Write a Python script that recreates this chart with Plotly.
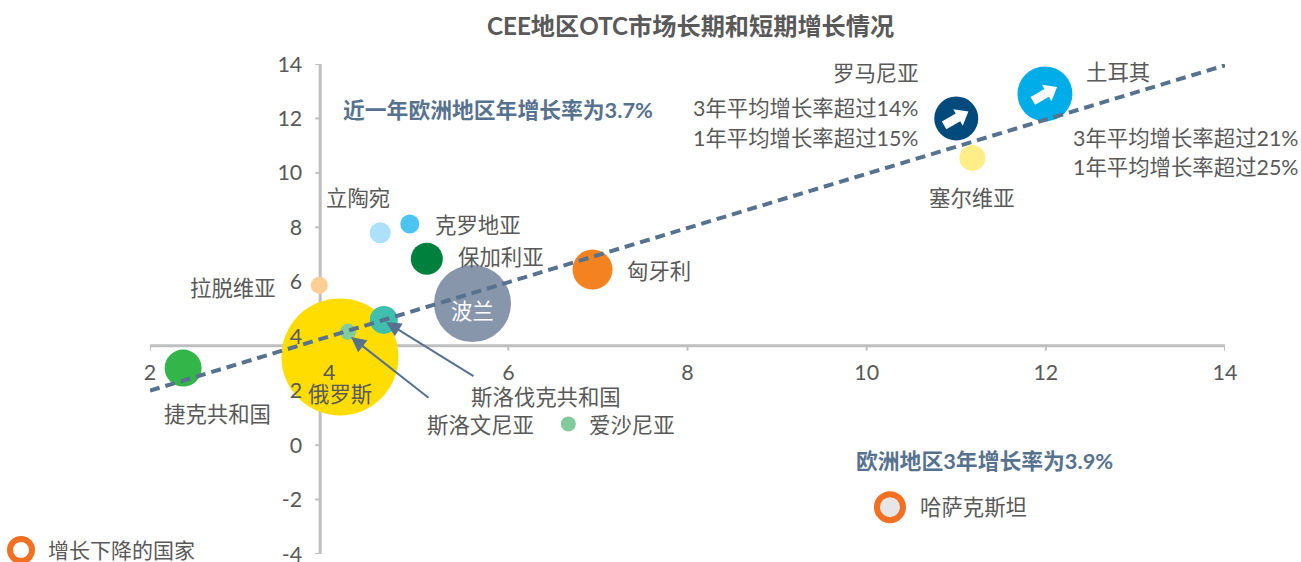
import math
import plotly.graph_objects as go

# ---------- data ----------
countries = ["俄罗斯", "波兰", "匈牙利", "捷克共和国", "土耳其", "罗马尼亚", "塞尔维亚", "保加利亚",
             "斯洛伐克共和国", "斯洛文尼亚", "爱沙尼亚", "拉脱维亚", "立陶宛", "克罗地亚", "哈萨克斯坦"]
growth_3y = [4.12, 5.6, 6.94, 2.37, 11.99, 11.0, 11.18, 5.09, 4.61, 4.21, 6.67, 3.89, 4.57, 4.9, 10.26]
growth_1y = [3.24, 5.2, 6.45, 2.83, 12.9, 12.0, 10.55, 6.85, 4.6, 4.16, 0.78, 5.87, 7.8, 8.12, -2.28]
bubble_sizes = [117, 77, 40, 37, 55, 44, 26, 32, 28, 16, 15, 17, 21, 19, 26]
bubble_colors = ["#FFDD00", "#8796AB", "#F58220", "#33B54A", "#00ADE8", "#004B7C", "#FFEE88", "#00803D",
                 "#40BFAE", "#82CC9C", "#82CC9C", "#FDCE93", "#ADE0FB", "#4DC3F0", "#E6E6E6"]
trend_x = [2, 14]
trend_y = [2.0, 13.95]
x_ticks = [2, 4, 6, 8, 10, 12, 14]
y_ticks = [-4, -2, 0, 2, 4, 6, 8, 10, 12, 14]
x_cross = 3.9   # Europe 3-year growth
y_cross = 3.65  # Europe 1-year growth
title_text = "CEE地区OTC市场长期和短期增长情况"

# ---------- layout constants ----------
W, H = 1301, 562
L, R, T, B = 150, 1225, 64, 554
FONT = "Lato, 'Noto Sans CJK SC', sans-serif"
GREY = "#595959"
BLUE = "#57728F"
AXIS = "#BFBFBF"
LS = 21.4
BS = 21.8


def xv(px):
    return 2 + (px - L) / (R - L) * 12


def yv(py):
    return -4 + (B - py) / (B - T) * 18


fig = go.Figure()

fig.add_trace(go.Scatter(x=growth_3y, y=growth_1y, mode="markers", cliponaxis=False, showlegend=False,
                         marker=dict(size=bubble_sizes, color=bubble_colors, opacity=1,
                                     line=dict(width=[6 if c == "哈萨克斯坦" else 0 for c in countries],
                                               color="#F36F21"))))
fig.add_trace(go.Scatter(x=trend_x, y=trend_y, mode="lines", cliponaxis=False, showlegend=False,
                         line=dict(color=BLUE, width=4, dash="10px,6px")))

shapes = [
    dict(type="line", layer="below", xref="x", yref="y", x0=2, x1=14, y0=y_cross, y1=y_cross,
         line=dict(color=AXIS, width=3)),
    dict(type="line", layer="below", xref="x", yref="y", x0=x_cross, x1=x_cross, y0=-4, y1=14,
         line=dict(color=AXIS, width=3)),
    # legend key: ring for "growth declining" countries
    dict(type="circle", layer="above", xref="paper", yref="paper", xsizemode="pixel", ysizemode="pixel",
         xanchor=(21 - L) / (R - L), yanchor=(B - 550) / (B - T), x0=-11, x1=11, y0=-11, y1=11,
         fillcolor="white", line=dict(color="#F36F21", width=6)),
]
for t in x_ticks:
    shapes.append(dict(type="line", layer="below", xref="x", yref="y", ysizemode="pixel", yanchor=y_cross,
                       x0=t, x1=t, y0=0, y1=-5, line=dict(color=AXIS, width=2)))
for t in y_ticks:
    shapes.append(dict(type="line", layer="below", xref="x", yref="y", xsizemode="pixel", xanchor=x_cross,
                       y0=t, y1=t, x0=0, x1=-5, line=dict(color=AXIS, width=2)))


def arrow_icon(country, angle=30):
    """White block-arrow icon sitting on a bubble, sized in screen pixels."""
    i = countries.index(country)
    pts = [(-14, -4.5), (2, -4.5), (2, -9.5), (14, 0), (2, 9.5), (2, 4.5), (-14, 4.5)]
    a = math.radians(angle)
    rot = [(p * math.cos(a) - q * math.sin(a), p * math.sin(a) + q * math.cos(a)) for p, q in pts]
    path = "M" + " L".join(f"{p:.2f},{q:.2f}" for p, q in rot) + " Z"
    return dict(type="path", layer="above", xref="x", yref="y", xsizemode="pixel", ysizemode="pixel",
                xanchor=growth_3y[i], yanchor=growth_1y[i], path=path, fillcolor="white",
                line=dict(width=0))


shapes += [arrow_icon("土耳其"), arrow_icon("罗马尼亚")]

ann = []


def label(text, px, py, color=GREY, size=LS, bold=False, align="center"):
    ann.append(dict(x=(px - L) / (R - L), y=(B - py) / (B - T), xref="paper", yref="paper",
                    text=f"<b>{text}</b>" if bold else text,
                    showarrow=False, xanchor=align, yanchor="middle",
                    font=dict(family=FONT, size=size, color=color)))


label(title_text, 690, 26, size=24.2, bold=True)
label("近一年欧洲地区年增长率为3.7%", 498, 109, color=BLUE, size=BS, bold=True)
label("欧洲地区3年增长率为3.9%", 984, 460, color=BLUE, size=BS, bold=True)
label("罗马尼亚", 876, 73)
label("3年平均增长率超过14%", 921, 108, align="right")
label("1年平均增长率超过15%", 921, 138, align="right")
label("土耳其", 1118, 72)
label("3年平均增长率超过21%", 1071, 138, align="left")
label("1年平均增长率超过25%", 1071, 167, align="left")
label("塞尔维亚", 972, 198)
label("立陶宛", 358, 198)
label("克罗地亚", 478, 225)
label("保加利亚", 501, 257)
label("匈牙利", 659, 271)
label("拉脱维亚", 233, 288)
label("波兰", 472, 311, color="white")
label("俄罗斯", 340, 394)
label("捷克共和国", 217, 414)
label("斯洛伐克共和国", 546, 397)
label("斯洛文尼亚", 480, 425)
label("爱沙尼亚", 632, 425)
label("哈萨克斯坦", 974, 507)
label("增长下降的国家", 121, 549, size=21)


def arrow(x1, y1, x0, y0, color, width, head=2, scale=1.0):
    ann.append(dict(x=xv(x1), y=yv(y1), ax=xv(x0), ay=yv(y0), xref="x", yref="y", axref="x", ayref="y",
                    text="", showarrow=True, arrowhead=head, arrowsize=scale, arrowwidth=width,
                    arrowcolor=color))


arrow(386, 322, 475, 377, BLUE, 2, head=2, scale=1.5)
arrow(351, 337, 430, 399, BLUE, 2, head=2, scale=1.5)

axis_font = dict(family=FONT, size=LS, color=GREY)
fig.update_layout(
    width=W, height=H, margin=dict(l=L, r=W - R, t=T, b=H - B, pad=0, autoexpand=False),
    plot_bgcolor="white", paper_bgcolor="white", shapes=shapes, annotations=ann,
    xaxis=dict(range=[2, 14], tickvals=x_ticks, ticktext=[str(t) for t in x_ticks], showgrid=False,
               zeroline=False, showline=False, ticks="", anchor="free", position=(y_cross + 4) / 18,
               tickfont=axis_font, ticklabelstandoff=12, ticklabeloverflow="allow"),
    yaxis=dict(range=[-4, 14], tickvals=y_ticks, ticktext=[str(t) for t in y_ticks], showgrid=False,
               zeroline=False, showline=False, ticks="", anchor="free", position=(x_cross - 2) / 12,
               tickfont=axis_font, ticklabelstandoff=18, ticklabeloverflow="allow"),
)

fig.write_html("out.html", config=dict(displayModeBar=False),
               post_script="document.body.style.margin='0';")
